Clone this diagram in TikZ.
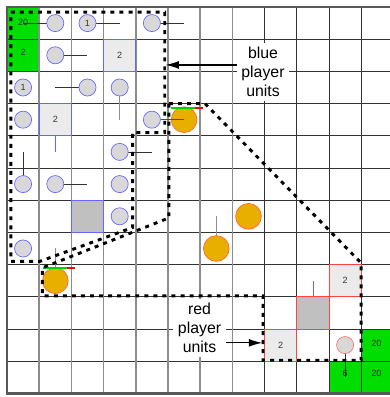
\documentclass[tikz,border=0pt]{standalone}
\usepackage{fontspec}
\setmainfont{Liberation Sans}
\usepackage{tikz}
\usetikzlibrary{arrows.meta, positioning, calc, backgrounds}
\definecolor{cGrass}{RGB}{0,221,0}
\definecolor{cBlueEdge}{RGB}{102,102,255}
\definecolor{cRedEdge}{RGB}{255,68,68}
\definecolor{cUnit}{RGB}{216,216,216}
\definecolor{cGold}{RGB}{232,174,0}
\definecolor{cGoldEdge}{RGB}{255,102,51}
\definecolor{cLight}{RGB}{235,235,235}
\definecolor{cDark}{RGB}{192,192,192}
\definecolor{cInk}{RGB}{51,51,51}
\definecolor{cHpGood}{RGB}{0,210,0}
\definecolor{cHpBad}{RGB}{255,0,0}
\pgfdeclarelayer{ticks}
\pgfsetlayers{background,ticks,main}
\tikzset{
	% board
	hline/.style    ={line width=0.7pt, draw=black!80},
	vlineA/.style   ={line width=1.3pt, draw=black!45},
	vlineB/.style   ={line width=0.7pt, draw=black!80},
	frame/.style    ={line width=2.6pt, draw=black!65},
	basetxt/.style  ={inner sep=0pt, text=cInk, font=\fontsize{8}{9.6}\selectfont},
	% units
	blueunit/.style ={circle, draw=cBlueEdge, fill=cUnit, line width=0.6pt, minimum size=0.53cm, inner sep=0pt, text=cInk, font=\fontsize{8}{9.6}\selectfont},
	redunit/.style  ={blueunit, draw=cRedEdge!75},
	goldunit/.style ={circle, draw=cGoldEdge, fill=cGold, line width=0.6pt, minimum size=0.8cm, inner sep=0pt},
	bluebox/.style  ={rectangle, draw=cBlueEdge, fill=cLight, line width=0.6pt, minimum size=1cm, inner sep=0pt, text=cInk, font=\fontsize{8}{9.6}\selectfont},
	bluebox2/.style ={bluebox, fill=cDark},
	redbox/.style   ={bluebox, draw=cRedEdge},
	redbox2/.style  ={redbox, fill=cDark},
	facing/.style   ={line width=0.6pt, black!80},
	hpgood/.style   ={line width=1.6pt, cHpGood},
	hpbad/.style    ={line width=1.6pt, cHpBad},
	% annotation
	region/.style   ={line width=2.6pt, dash pattern=on 3.5pt off 4.5pt},
	caption/.style  ={fill=white, align=center, inner sep=4pt, font=\fontsize{14}{16.8}\selectfont},
	pointer/.style  ={-{Latex[length=12pt, width=7pt]}, line width=1.1pt},
}

\begin{document}
\begin{tikzpicture}[x=1cm, y=-1cm]
	\useasboundingbox (-0.217,-0.217) rectangle (11.894,12.112);
	\begin{pgfonlayer}{background}
		% bases
		\fill[cGrass] (0,0) rectangle (1,2);
		\fill[cGrass] (11,10) rectangle (12,12);
		\fill[cGrass] (10,11) rectangle (11,12);
		% grid
		\foreach \i in {1,...,11} \draw[hline] (0,\i) -- (12,\i);
		\foreach \i in {1,...,7} \draw[vlineA] (\i,0) -- (\i,12);
		\foreach \i in {8,...,11} \draw[vlineB] (\i,0) -- (\i,12);
		\draw[frame] (0,0) rectangle (12,12);
	\end{pgfonlayer}
	\node[basetxt] (bb1) at (0.5,0.47) {20};
	\node[basetxt] (bb2) at (0.5,1.42) {2};
	\node[basetxt] (rb1) at (11.47,10.45) {20};
	\node[basetxt] (rb2) at (11.47,11.37) {20};
	\node[basetxt] (rb3) at (10.5,11.37) {6};
	% red player
	\node[goldunit] (go1) at (5.5,3.5) {};
	\draw[facing, red] (go1.center) -- (4.5,3.5);
	\node[goldunit] (go2) at (7.5,6.5) {};
	\node[goldunit] (go3) at (6.5,7.5) {};
	\node[goldunit] (go4) at (1.5,8.5) {};
	\draw[hpgood] (5.1,3.13) -- (5.85,3.13);
	\draw[hpbad] (5.85,3.13) -- (6.1,3.13);
	\draw[hpgood] (1.12,8.1) -- (1.86,8.1);
	\draw[hpbad] (1.86,8.1) -- (2.11,8.1);
	\node[redbox] (rs1) at (10.5,8.5) {2};
	\node[redbox2] (rs2) at (9.5,9.5) {};
	\node[redbox] (rs3) at (8.5,10.5) {2};
	\node[redunit] (ru1) at (10.5,10.5) {};
	% blue player
	\node[blueunit] (bu1) at (1.5,0.5) {};
	\node[blueunit] (bu2) at (2.5,0.5) {1};
	\node[blueunit] (bu3) at (4.5,0.5) {};
	\node[blueunit] (bu4) at (1.5,1.5) {};
	\node[blueunit] (bu5) at (0.5,2.5) {1};
	\node[blueunit] (bu6) at (2.5,2.5) {};
	\node[blueunit] (bu7) at (3.5,2.5) {};
	\node[blueunit] (bu8) at (0.5,3.5) {};
	\node[blueunit] (bu9) at (4.5,3.5) {};
	\node[blueunit] (bu10) at (3.5,4.5) {};
	\node[blueunit] (bu11) at (0.5,5.5) {};
	\node[blueunit] (bu12) at (1.5,5.5) {};
	\node[blueunit] (bu13) at (3.5,5.5) {};
	\node[blueunit] (bu14) at (3.5,6.5) {};
	\node[blueunit] (bu15) at (0.5,7.5) {};
	\node[bluebox] (bs1) at (3.5,1.5) {2};
	\node[bluebox] (bs2) at (1.5,3.5) {2};
	\node[bluebox2] (bs3) at (2.5,6.5) {};
	% facing ticks, under the units
	\begin{pgfonlayer}{ticks}
		\draw[facing] (bu1.center) -- ++(-1,0);
		\draw[facing] (bu2.center) -- ++(1,0);
		\draw[facing] (bu3.center) -- ++(1,0);
		\draw[facing] (bu4.center) -- ++(1,0);
		\draw[facing] (bu6.center) -- ++(-1,0);
		\draw[facing, black!45] (bu7.center) -- ++(0,1);
		\draw[facing] (bu10.center) -- ++(1,0);
		\draw[facing] (bu11.center) -- ++(0,-1);
		\draw[facing] (bu12.center) -- ++(1,0);
		\draw[facing, cBlueEdge] (bs2.center) -- ++(0,1);
		\draw[facing, black!45] (go3.center) -- ++(0,-1);
		\draw[facing, black!45] (go4.center) -- ++(0,-1);
		\draw[facing, cBlueEdge] (rs2.center) -- ++(0,-1);
		\draw[facing] (ru1.center) -- ++(0,1);
	\end{pgfonlayer}
	% unit groups
	\draw[region] (0.12,0.16) -- (4.9,0.16) -- (4.9,3.9) -- (3.9,3.9) -- (3.9,6.85) -- (1.02,7.9) -- (0.12,7.9) -- cycle;
	\draw[region] (5.03,3.0) -- (6.15,3.0) -- (11.0,7.95) -- (11.0,10.97) -- (7.95,10.97) -- (7.95,8.97) -- (1.1,8.97) -- (1.1,8.1) -- (5.03,6.55) -- cycle;
	\node[caption] (bluelbl) at (7.95,2.02) {blue\\player\\units};
	\coordinate (bluetip) at (4.92,1.8);
	\draw[pointer] (bluelbl.west |- bluetip) -- (bluetip);
	\node[caption] (redlbl) at (5.98,9.97) {red\\player\\units};
	\coordinate (redtip) at (7.93,10.43);
	\draw[pointer] (redlbl.east |- redtip) -- (redtip);
\end{tikzpicture}
\end{document}
